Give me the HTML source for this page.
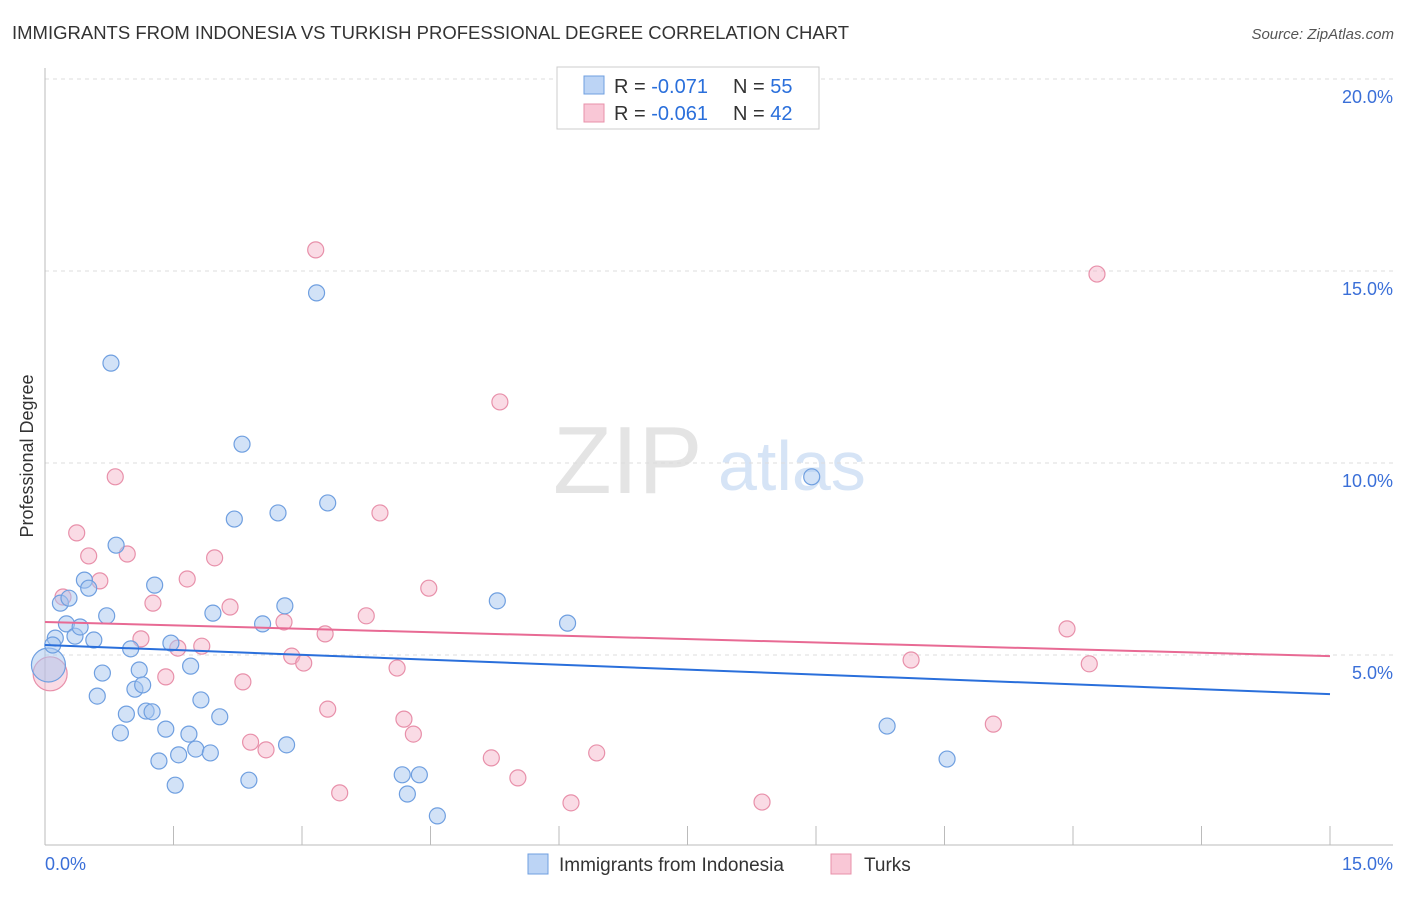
<!DOCTYPE html>
<html><head><meta charset="utf-8"><style>
body{margin:0;background:#fff;font-family:"Liberation Sans",sans-serif;}
svg text{font-family:"Liberation Sans",sans-serif;}
</style></head><body>
<svg id="chart" width="1406" height="892" viewBox="0 0 1406 892">
<text x="12" y="39" font-size="18.5" fill="#333">IMMIGRANTS FROM INDONESIA VS TURKISH PROFESSIONAL DEGREE CORRELATION CHART</text>
<text x="1394" y="39" font-size="15" fill="#555" font-style="italic" text-anchor="end">Source: ZipAtlas.com</text>
<text x="33" y="456" font-size="18" fill="#333" text-anchor="middle" transform="rotate(-90 33 456)">Professional Degree</text>
<g>
<text x="553" y="493" font-size="96" fill="#e4e4e4" font-family="Liberation Serif,serif">ZIP</text>
<text x="718" y="490" font-size="70" fill="#d6e4f6">atlas</text>
</g>
<g id="grid"></g>
<g id="axes"></g>
<g id="marks"></g>
<g>
<rect x="557" y="67" width="262" height="62" fill="#fff" stroke="#ccc"/>
<rect x="584" y="76" width="20" height="18" fill="#bcd4f5" stroke="#6f9fe0"/>
<rect x="584" y="104" width="20" height="18" fill="#f9c7d6" stroke="#e890aa"/>
<text x="614" y="93" font-size="20" fill="#333">R = <tspan fill="#2a6fdb">-0.071</tspan></text>
<text x="733" y="93" font-size="20" fill="#333">N = <tspan fill="#2a6fdb">55</tspan></text>
<text x="614" y="120" font-size="20" fill="#333">R = <tspan fill="#2a6fdb">-0.061</tspan></text>
<text x="733" y="120" font-size="20" fill="#333">N = <tspan fill="#2a6fdb">42</tspan></text>
</g>
<g>
<rect x="528" y="854" width="20" height="20" fill="#bcd4f5" stroke="#6f9fe0"/>
<text x="559" y="871" font-size="19" fill="#333">Immigrants from Indonesia</text>
<rect x="831" y="854" width="20" height="20" fill="#f9c7d6" stroke="#e890aa"/>
<text x="864" y="871" font-size="19" fill="#333">Turks</text>
</g>
</svg>
<script>
const yTicks=[5,10,15,20];
const yTickLabels=["5.0%","10.0%","15.0%","20.0%"];
const xTickCount=10;
const blueX=[0.04,0.12,0.09,0.18,0.28,0.25,0.35,0.41,0.46,0.51,0.57,0.61,0.67,0.72,0.77,0.83,0.88,0.95,1.00,1.05,1.10,1.14,1.18,1.25,1.28,1.33,1.41,1.47,1.52,1.56,1.68,1.70,1.76,1.82,1.93,1.96,2.04,2.21,2.30,2.38,2.54,2.72,2.80,2.82,3.17,3.30,4.17,4.23,4.37,4.58,5.28,6.10,8.95,9.83,10.53];
const blueY=[4.74,5.44,5.26,6.35,6.48,5.81,5.49,5.73,6.95,6.74,5.39,3.93,4.53,6.02,12.60,7.86,2.97,3.46,5.16,4.11,4.61,4.22,3.54,3.52,6.82,2.24,3.07,5.31,1.61,2.40,2.94,4.71,2.55,3.83,2.45,6.09,3.39,8.54,10.49,1.74,5.81,8.70,6.28,2.66,14.43,8.96,1.88,1.38,1.88,0.81,6.41,5.83,9.64,3.15,2.29];
const pinkX=[0.06,0.21,0.37,0.51,0.64,0.82,0.96,1.12,1.26,1.41,1.55,1.66,1.83,1.98,2.16,2.31,2.40,2.58,2.79,2.88,3.02,3.16,3.27,3.30,3.44,3.75,3.91,4.11,4.19,4.30,4.48,5.21,5.31,5.52,6.14,6.44,8.37,10.11,11.07,11.93,12.19,12.28];
const pinkY=[4.51,6.51,8.18,7.58,6.93,9.64,7.63,5.42,6.35,4.43,5.18,6.98,5.23,7.53,6.25,4.30,2.73,2.53,5.86,4.97,4.79,15.55,5.55,3.59,1.41,6.02,8.70,4.66,3.33,2.94,6.74,2.32,11.59,1.80,1.15,2.45,1.17,4.87,3.20,5.68,4.77,14.92];
const blueTrend=[5.26,3.98];
const pinkTrend=[5.86,4.97];
const X0=45,X1=1330,Y0=847,PPU=38.4;
function sx(v){return X0+v/15*(X1-X0);}
function sy(v){return Y0-v*PPU;}
const NS="http://www.w3.org/2000/svg";
function mk(tag,attrs,parent){const e=document.createElementNS(NS,tag);for(const k in attrs)e.setAttribute(k,attrs[k]);parent.appendChild(e);return e;}
const grid=document.getElementById('grid'),axes=document.getElementById('axes'),marks=document.getElementById('marks');
yTicks.forEach((t,i)=>{
 const l=mk('line',{x1:45,x2:1393,y1:sy(t),y2:sy(t),stroke:'#ddd','stroke-dasharray':'4 4'},grid);
 
 
 const tx=mk('text',{x:1393,y:sy(t)+24,'font-size':18,fill:'#3a6fd8','text-anchor':'end'},grid);
 tx.textContent=yTickLabels[i];
 
 
});
mk('line',{x1:45,x2:45,y1:68,y2:845,stroke:'#bbb'},axes);
mk('line',{x1:45,x2:1393,y1:845,y2:845,stroke:'#bbb'},axes);
for(let i=0;i<=xTickCount;i++){
 const x=sx(15*i/xTickCount);
 const t=mk('line',{x1:x,x2:x,y1:826,y2:845,stroke:'#bbb'},axes);
 
 
}
const xl=mk('text',{x:45,y:870,'font-size':18,fill:'#3a6fd8'},axes);xl.textContent="0.0%";


const xr=mk('text',{x:1393,y:870,'font-size':18,fill:'#3a6fd8','text-anchor':'end'},axes);xr.textContent="15.0%";


function pts(xs,ys,fill,stroke,name){
 xs.forEach((x,i)=>{
  const c=mk('circle',{cx:sx(x),cy:sy(ys[i]),r:i===0?17:8,fill:fill,stroke:stroke,'stroke-width':1.2},marks);
  
  
 });
}
pts(pinkX,pinkY,'rgba(245,175,198,0.45)','#e890aa','turks-point');
pts(blueX,blueY,'rgba(165,198,240,0.5)','#6f9fe0','indonesia-point');
const bl=mk('line',{x1:sx(0),y1:sy(blueTrend[0]),x2:sx(15),y2:sy(blueTrend[1]),stroke:'#2a6fdb','stroke-width':2},marks);


const pl=mk('line',{x1:sx(0),y1:sy(pinkTrend[0]),x2:sx(15),y2:sy(pinkTrend[1]),stroke:'#e86a94','stroke-width':2},marks);


</script>
</body></html>
